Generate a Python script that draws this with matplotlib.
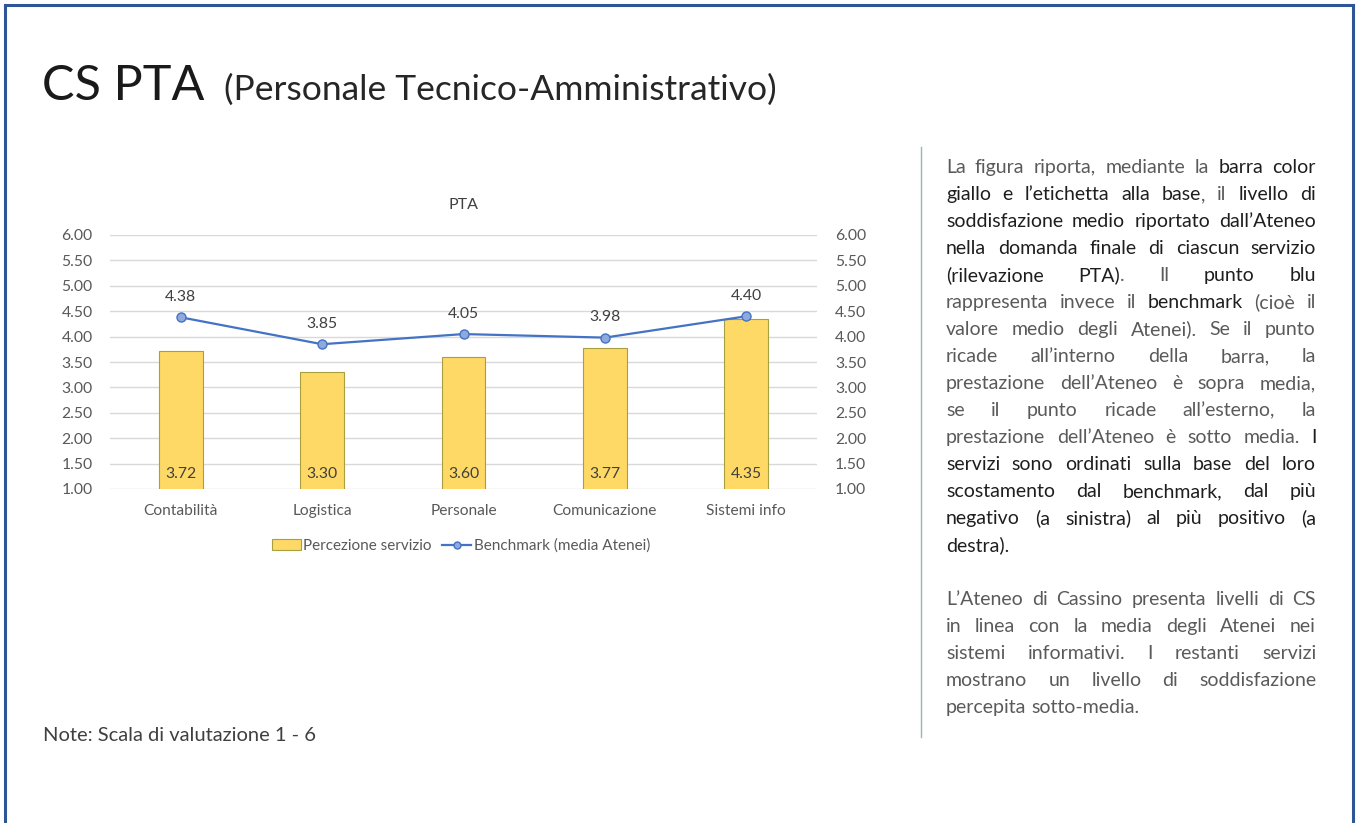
import numpy as np
import matplotlib
matplotlib.use('Agg')
import matplotlib.pyplot as plt
from matplotlib.lines import Line2D
from matplotlib.patches import Patch

# ---------------- data ----------------
categories = ['Contabilità', 'Logistica', 'Personale', 'Comunicazione', 'Sistemi info']
perception = [3.72, 3.30, 3.60, 3.77, 4.35]
benchmark = [4.38, 3.85, 4.05, 3.98, 4.40]
y_ticks = [1.0, 1.5, 2.0, 2.5, 3.0, 3.5, 4.0, 4.5, 5.0, 5.5, 6.0]
series_names = ['Percezione servizio', 'Benchmark (media Atenei)']
chart_title = 'PTA'
page_title = 'CS PTA'
page_subtitle = '(Personale Tecnico-Amministrativo)'
note_text = 'Note: Scala di valutazione 1 - 6'

# paragraph lines: list of (text, emphasised)
para1 = [
    [("La figura riporta, mediante la ", False), ("barra color", True)],
    [("giallo e l’etichetta alla base", True), (", il ", False), ("livello di", True)],
    [("soddisfazione medio riportato dall’Ateneo", True)],
    [("nella domanda finale di ciascun servizio", True)],
    [("(rilevazione PTA)", True), (". Il ", False), ("punto blu", True)],
    [("rappresenta invece il ", False), ("benchmark", True), (" (cioè il", False)],
    [("valore medio degli Atenei). Se il punto", False)],
    [("ricade all’interno della barra, la", False)],
    [("prestazione dell’Ateneo è sopra media,", False)],
    [("se il punto ricade all’esterno, la", False)],
    [("prestazione dell’Ateneo è sotto media. ", False), ("I", True)],
    [("servizi sono ordinati sulla base del loro", True)],
    [("scostamento dal benchmark, dal più", True)],
    [("negativo (a sinistra) al più positivo (a", True)],
    [("destra).", True)],
]
para2 = [
    [("L’Ateneo di Cassino presenta livelli di CS", False)],
    [("in linea con la media degli Atenei nei", False)],
    [("sistemi informativi. I restanti servizi", False)],
    [("mostrano un livello di soddisfazione", False)],
    [("percepita sotto-media.", False)],
]

# ---------------- style ----------------
plt.rcParams['font.family'] = ['Lato', 'DejaVu Sans']
W, H = 1357, 823
fig = plt.figure(figsize=(W / 100, H / 100), dpi=100)
fig.patch.set_facecolor('white')


def fx(px):
    return px / W


def fy(py):
    return 1 - py / H


BAR_COL = '#FFD966'
BAR_EDGE = '#A8A040'
LINE_COL = '#4472C4'
MARK_FILL = '#8EA9DB'
TXT = '#595959'
DARK = '#404040'

# ---------------- chart ----------------
ax = fig.add_axes([fx(110), fy(489), (817 - 110) / W, (489 - 235) / H])
x = np.arange(len(categories))
ax.bar(x, perception, width=0.31, color=BAR_COL, edgecolor=BAR_EDGE, linewidth=0.8, zorder=2)
ax.plot(x, benchmark, color=LINE_COL, lw=1.6, marker='o', markersize=6.5,
        markerfacecolor=MARK_FILL, markeredgecolor=LINE_COL, markeredgewidth=1.0, zorder=3)

ax.set_xlim(-0.5, len(categories) - 0.5)
ax.set_ylim(y_ticks[0], y_ticks[-1])
ax.set_yticks(y_ticks)
ax.set_yticklabels([f'{t:.2f}' for t in y_ticks])
ax.set_xticks(x)
ax.set_xticklabels(categories)
ax.tick_params(axis='y', length=0, pad=12.5, labelsize=11.3, labelcolor=TXT)
ax.tick_params(axis='x', length=0, pad=11, labelsize=11.2, labelcolor=TXT)
ax.grid(axis='y', color='#D9D9D9', lw=1, zorder=0)
ax.set_axisbelow(True)
for s in ax.spines.values():
    s.set_visible(False)

ax2 = ax.twinx()
ax2.set_ylim(ax.get_ylim())
ax2.set_yticks(y_ticks)
ax2.set_yticklabels([f'{t:.2f}' for t in y_ticks])
ax2.tick_params(axis='y', length=0, pad=13, labelsize=11.3, labelcolor=TXT)
for s in ax2.spines.values():
    s.set_visible(False)

for xi, v in zip(x, perception):
    ax.annotate(f'{v:.2f}', xy=(xi, y_ticks[0]), xytext=(0, 10.5), textcoords='offset points',
                ha='center', va='center', fontsize=11.3, color=DARK, zorder=4)
for xi, b in zip(x, benchmark):
    ax.annotate(f'{b:.2f}', xy=(xi, b), xytext=(0, 14.5), textcoords='offset points',
                ha='center', va='center', fontsize=11.3, color=DARK, zorder=4)

fig.text(fx(463), fy(205), chart_title, ha='center', va='center', fontsize=11.5, color=DARK)

handles = [Patch(facecolor=BAR_COL, edgecolor=BAR_EDGE, linewidth=0.8),
           Line2D([0], [0], color=LINE_COL, lw=1.6, marker='o', markersize=5,
                  markerfacecolor=MARK_FILL, markeredgecolor=LINE_COL)]
fig.legend(handles, series_names, loc='center', bbox_to_anchor=(fx(461), fy(546)), ncol=2,
           frameon=False, fontsize=11, labelcolor=TXT, handlelength=1.9, handletextpad=0.15,
           columnspacing=0.7)

# ---------------- page texts ----------------
fig.text(fx(42), fy(100), page_title, fontsize=35, color='#1A1A1A', va='baseline')
fig.text(fx(224), fy(100), page_subtitle, fontsize=25.5, color='#262626', va='baseline')
fig.text(fx(43), fy(741), note_text, fontsize=14.5, color=DARK, va='baseline')

# border
bc = '#2F5597'
for xs, ys in [([5, 5], [823, 5]), ([5, 1353], [5, 5]), ([1353, 1353], [5, 823])]:
    fig.add_artist(Line2D([fx(v) for v in xs], [fy(v) for v in ys], transform=fig.transFigure,
                          color=bc, lw=2.2))
# separator
fig.add_artist(Line2D([fx(921), fx(921)], [fy(147), fy(737)], transform=fig.transFigure,
                      color='#9DB3B5', lw=1.0))

# ---------------- justified paragraph ----------------
renderer = fig.canvas.get_renderer()


def style(b):
    return dict(fontweight='normal', color='#1E1E1E' if b else '#5A5A5A')


def measure(txt, b, size):
    t = fig.text(0, 0, txt, fontsize=size, **style(b))
    w = t.get_window_extent(renderer).width
    t.remove()
    return w


def words_of(segments):
    words = [[]]
    for text, b in segments:
        parts = text.split(' ')
        for i, p in enumerate(parts):
            if i > 0:
                words.append([])
            if p:
                words[-1].append((p, b))
    return [w for w in words if w]


X0, X1 = 946, 1316
BASE = 10.0
space_w = measure('a a', False, BASE) - measure('aa', False, BASE)
all_lines = [(l, i == len(para1) - 1) for i, l in enumerate(para1)] + [None] + \
            [(l, i == len(para2) - 1) for i, l in enumerate(para2)]

scale = 99
for item in all_lines:
    if item is None:
        continue
    ws = words_of(item[0])
    nat = sum(measure(p, b, BASE) for w in ws for p, b in w) + space_w * (len(ws) - 1)
    scale = min(scale, (X1 - X0) / nat * BASE)
size = min(14.0, scale * 0.985)
k = size / BASE

y = 173
for item in all_lines:
    if item is None:
        y += 27
        continue
    segs, last = item
    ws = words_of(segs)
    widths = [[measure(p, b, BASE) * k for p, b in w] for w in ws]
    total = sum(sum(w) for w in widths)
    if last or len(ws) == 1:
        gap = space_w * k
    else:
        gap = (X1 - X0 - total) / (len(ws) - 1)
    cx = X0
    for w, wl in zip(ws, widths):
        px = cx
        for (p, b), pw in zip(w, wl):
            fig.text(fx(px), fy(y), p, fontsize=size, va='baseline', ha='left', **style(b))
            px += pw
        cx = px + gap
    y += 27

fig.savefig('out.png', dpi=100, facecolor='white')
